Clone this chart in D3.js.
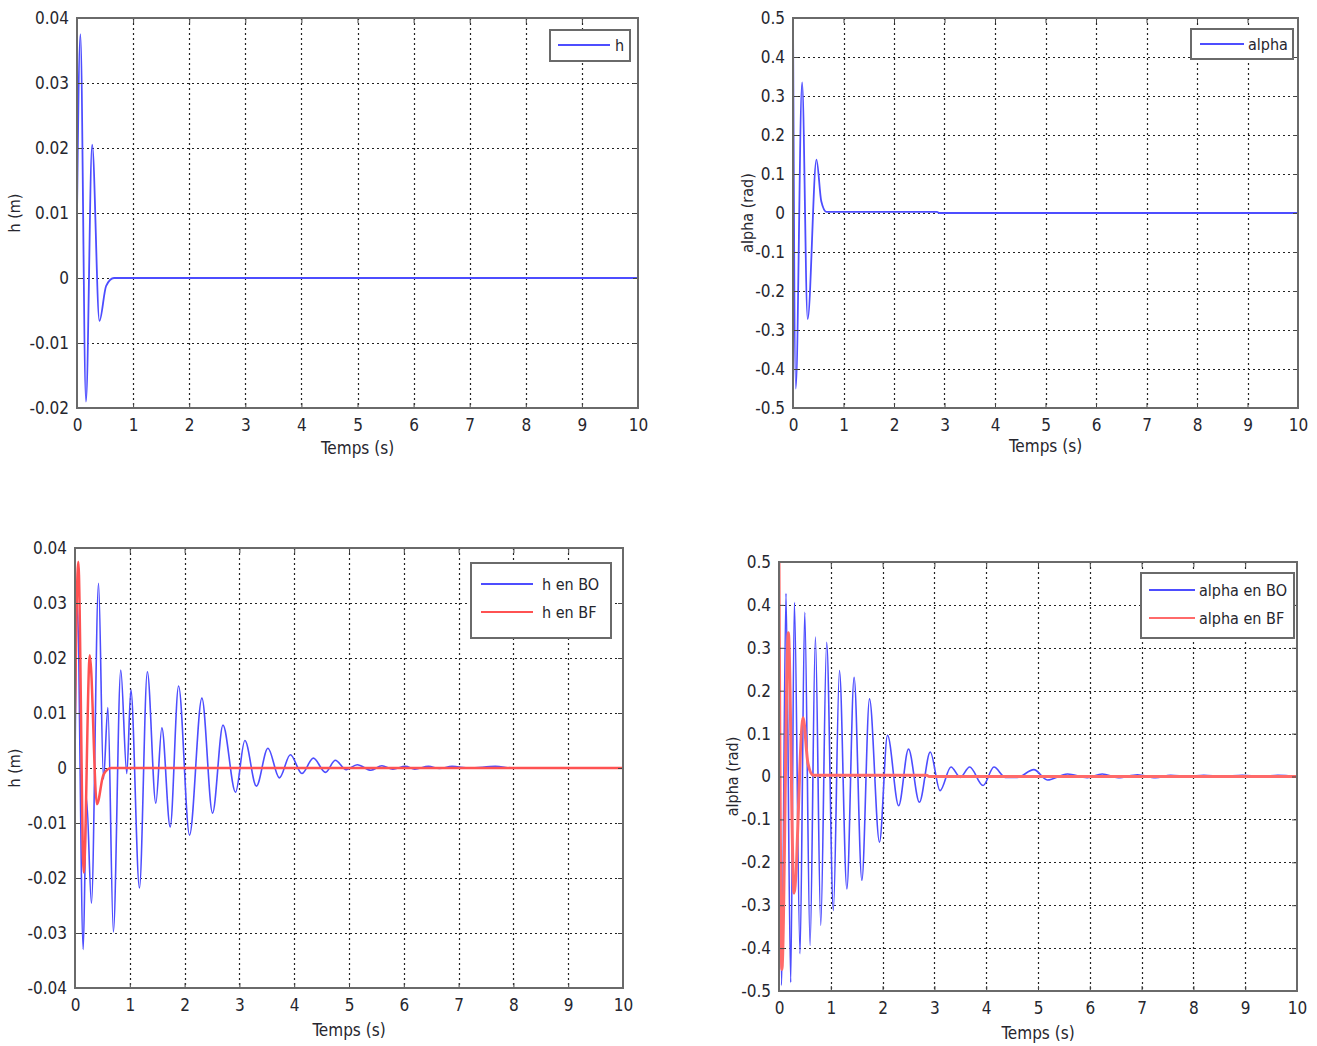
<!DOCTYPE html>
<html>
<head>
<meta charset="utf-8">
<script src="https://cdn.jsdelivr.net/npm/d3@7/dist/d3.min.js"></script>
<style>
	body { margin: 0; background: #fff; }
	svg text { font-family: "DejaVu Sans Condensed", "Liberation Sans Narrow", sans-serif; font-stretch: condensed; fill: #26262e; }
</style>
</head>
<body>
<svg id="board" width="1317" height="1046"></svg>
<script>
// time axis (s)
var timeTicks = [0, 1, 2, 3, 4, 5, 6, 7, 8, 9, 10];
var hTicksTop = [-0.02, -0.01, 0, 0.01, 0.02, 0.03, 0.04];
var hTicksBottom = [-0.04, -0.03, -0.02, -0.01, 0, 0.01, 0.02, 0.03, 0.04];
var alphaTicks = [-0.5, -0.4, -0.3, -0.2, -0.1, 0, 0.1, 0.2, 0.3, 0.4, 0.5];

// h, closed loop (BF) : [t, h]
var hBF = [[0, 0.010], [0.06, 0.0375], [0.16, -0.019], [0.27, 0.0205], [0.40, -0.0066],
	[0.52, -0.0012], [0.66, 0], [10, 0]];

// h, open loop (BO) : [t, h]
var hBO = [[0, 0], [0.04, 0.030], [0.15, -0.033], [0.21, -0.0055], [0.30, -0.0246], [0.43, 0.0336],
	[0.52, -0.002], [0.60, 0.011], [0.70, -0.0298], [0.835, 0.0178], [0.945, -0.001], [1.02, 0.0142],
	[1.176, -0.0218], [1.32, 0.0175], [1.475, -0.0064], [1.585, 0.0073], [1.737, -0.0107], [1.89, 0.0149],
	[2.09, -0.0122], [2.316, 0.0127], [2.51, -0.0082], [2.70, 0.0078], [2.93, -0.0044], [3.1, 0.005],
	[3.31, -0.0033], [3.52, 0.0036], [3.73, -0.0018], [3.93, 0.0024], [4.14, -0.001], [4.35, 0.0018],
	[4.57, -0.0008], [4.75, 0.0014], [4.95, -0.0003], [5.15, 0.0006], [5.4, -0.0004], [5.6, 0.0004],
	[5.8, -0.0002], [6.03, 0.0003], [6.2, -0.0002], [6.45, 0.0003], [6.65, -0.0001], [6.88, 0.0003],
	[7.2, 0], [7.67, 0.0003], [8.0, 0], [10, 0]];

// alpha, closed loop (BF) : [t, alpha]
var alphaBF = [[0, 0.5], [0.055, -0.45], [0.18, 0.335], [0.29, -0.272], [0.465, 0.137],
	[0.56, 0.03], [0.66, 0.003], [2.85, 0.003], [2.9, 0], [10, 0]];

// alpha, open loop (BO) : [t, alpha]
var alphaBO = [[0, 0.19], [0.05, -0.487], [0.135, 0.427], [0.226, -0.48], [0.297, 0.406], [0.406, -0.413],
	[0.497, 0.383], [0.60, -0.394], [0.703, 0.325], [0.806, -0.347], [0.92, 0.313], [1.05, -0.312],
	[1.167, 0.247], [1.31, -0.262], [1.45, 0.231], [1.60, -0.242], [1.747, 0.181], [1.94, -0.153],
	[2.095, 0.096], [2.31, -0.068], [2.5, 0.064], [2.71, -0.06], [2.92, 0.057], [3.11, -0.033],
	[3.32, 0.022], [3.5, -0.002], [3.68, 0.022], [3.94, -0.021], [4.15, 0.022], [4.37, -0.002],
	[4.6, -0.002], [4.92, 0.016], [5.18, -0.008], [5.57, 0.006], [5.95, -0.003], [6.24, 0.006],
	[6.55, -0.003], [6.92, 0.004], [7.27, -0.003], [7.56, 0.003], [7.9, 0], [8.2, 0.003], [8.55, 0],
	[8.95, 0.003], [9.3, 0], [9.63, 0.003], [10, 0]];

var BLUE = '#4d4dff', RED = '#ff5252';

var panels = [
	{ id: 'p1', left: 77, right: 638, top: 18, bottom: 408, yTicks: hTicksTop, dec: 2,
		yLabel: 'h (m)', yLabelX: 20, xLabelY: 454,
		series: [{ name: 'h', data: hBF, color: BLUE, width: 1.8 }],
		legend: { x: 550, y: 30, w: 80, h: 31, lx1: 8, lx2: 60, tx: 65, rows: [15] } },
	{ id: 'p2', left: 793, right: 1298, top: 18, bottom: 408, yTicks: alphaTicks, dec: 1,
		yLabel: 'alpha (rad)', yLabelX: 753, xLabelY: 452,
		series: [{ name: 'alpha', data: alphaBF, color: BLUE, width: 1.8 }],
		legend: { x: 1191, y: 29, w: 102, h: 30, lx1: 9, lx2: 53, tx: 57, rows: [15] } },
	{ id: 'p3', left: 75, right: 623, top: 548, bottom: 988, yTicks: hTicksBottom, dec: 2,
		yLabel: 'h (m)', yLabelX: 20, xLabelY: 1036,
		series: [{ name: 'h en BO', data: hBO, color: BLUE, width: 1.6 },
						 { name: 'h en BF', data: hBF, color: RED, width: 2.5 }],
		legend: { x: 471, y: 563, w: 140, h: 75, lx1: 10, lx2: 62, tx: 71, rows: [21, 49] } },
	{ id: 'p4', left: 779, right: 1297, top: 562, bottom: 991, yTicks: alphaTicks, dec: 1,
		yLabel: 'alpha (rad)', yLabelX: 738, xLabelY: 1039,
		series: [{ name: 'alpha en BO', data: alphaBO, color: BLUE, width: 1.6 },
						 { name: 'alpha en BF', data: alphaBF, color: '#ff6a6a', width: 3 }],
		legend: { x: 1141, y: 573, w: 153, h: 65, lx1: 8, lx2: 54, tx: 58, rows: [17, 45] } }
];

function fmt(v, dec) {
	return String(+v.toFixed(dec));
}

function drawPanel(p) {
	var svg = d3.select('#board');
	var x = d3.scaleLinear().domain([0, 10]).range([p.left, p.right]);
	var y = d3.scaleLinear().domain(d3.extent(p.yTicks)).range([p.bottom, p.top]);
	var g = svg.append('g').attr('id', p.id);

	g.append('rect')
		.attr('x', p.left).attr('y', p.top)
		.attr('width', p.right - p.left).attr('height', p.bottom - p.top)
		.style('fill', '#fff');

	// dotted grid
	var grid = g.append('g').attr('stroke', '#222').attr('stroke-width', 1.2).attr('stroke-dasharray', '2,3');
	grid.selectAll('.vg').data(timeTicks.slice(1, -1)).enter().append('line')
		.attr('x1', function(d) { return Math.round(x(d)) + 0.5 }).attr('x2', function(d) { return Math.round(x(d)) + 0.5 })
		.attr('y1', p.top).attr('y2', p.bottom);
	grid.selectAll('.hg').data(p.yTicks.slice(1, -1)).enter().append('line')
		.attr('y1', function(d) { return Math.round(y(d)) + 0.5 }).attr('y2', function(d) { return Math.round(y(d)) + 0.5 })
		.attr('x1', p.left).attr('x2', p.right);

	// curves
	g.append('clipPath').attr('id', p.id + 'clip').append('rect')
		.attr('x', p.left).attr('y', p.top).attr('width', p.right - p.left).attr('height', p.bottom - p.top);
	var line = d3.line()
		.x(function(d) { return x(d[0]) })
		.y(function(d) { return y(d[1]) })
		.curve(d3.curveMonotoneX);
	p.series.forEach(function(s) {
		g.append('path').datum(s.data)
			.attr('d', line)
			.attr('clip-path', 'url(#' + p.id + 'clip)')
			.style('fill', 'none').style('stroke', s.color).style('stroke-width', s.width)
			.style('stroke-linejoin', 'round');
	});

	// axes with inner ticks on every side
	var axes = [
		d3.axisBottom(x).tickValues(timeTicks).tickSizeInner(-5).tickSizeOuter(0).tickPadding(11),
		d3.axisTop(x).tickValues(timeTicks).tickSizeInner(-5).tickSizeOuter(0).tickFormat(''),
		d3.axisLeft(y).tickValues(p.yTicks).tickSizeInner(-5).tickSizeOuter(0).tickPadding(8)
			.tickFormat(function(d) { return fmt(d, p.dec) }),
		d3.axisRight(y).tickValues(p.yTicks).tickSizeInner(-5).tickSizeOuter(0).tickFormat('')
	];
	var shifts = ['translate(0,' + p.bottom + ')', 'translate(0,' + p.top + ')',
								'translate(' + p.left + ',0)', 'translate(' + p.right + ',0)'];
	axes.forEach(function(a, i) {
		var ag = g.append('g').attr('transform', shifts[i]).call(a);
		ag.attr('font-family', null).attr('font-size', null);
		ag.select('.domain').remove();
		ag.selectAll('line').attr('stroke', '#444');
		ag.selectAll('text').style('font-size', '17px').attr('fill', null);
	});

	g.append('rect')
		.attr('x', p.left).attr('y', p.top)
		.attr('width', p.right - p.left).attr('height', p.bottom - p.top)
		.style('fill', 'none').style('stroke', '#6a6a6a').style('stroke-width', 2);

	// labels
	g.append('text').text('Temps (s)')
		.attr('x', (p.left + p.right) / 2).attr('y', p.xLabelY)
		.attr('text-anchor', 'middle').style('font-size', '17px');
	g.append('text').text(p.yLabel)
		.attr('transform', 'translate(' + p.yLabelX + ',' + ((p.top + p.bottom) / 2) + ') rotate(-90)')
		.attr('text-anchor', 'middle').style('font-size', '16px');

	// legend
	var L = p.legend;
	var lg = g.append('g').attr('transform', 'translate(' + L.x + ',' + L.y + ')');
	lg.append('rect').attr('width', L.w).attr('height', L.h)
		.style('fill', '#fff').style('stroke', '#6a6a6a').style('stroke-width', 2);
	p.series.forEach(function(s, i) {
		var cy = L.rows[i];
		lg.append('line').attr('x1', L.lx1).attr('x2', L.lx2)
			.attr('y1', cy).attr('y2', cy)
			.style('stroke', s.color).style('stroke-width', 2.2);
		lg.append('text').text(s.name)
			.attr('x', L.tx).attr('y', cy + 6)
			.style('font-size', '16px');
	});
}

panels.forEach(drawPanel);
</script>
</body>
</html>
